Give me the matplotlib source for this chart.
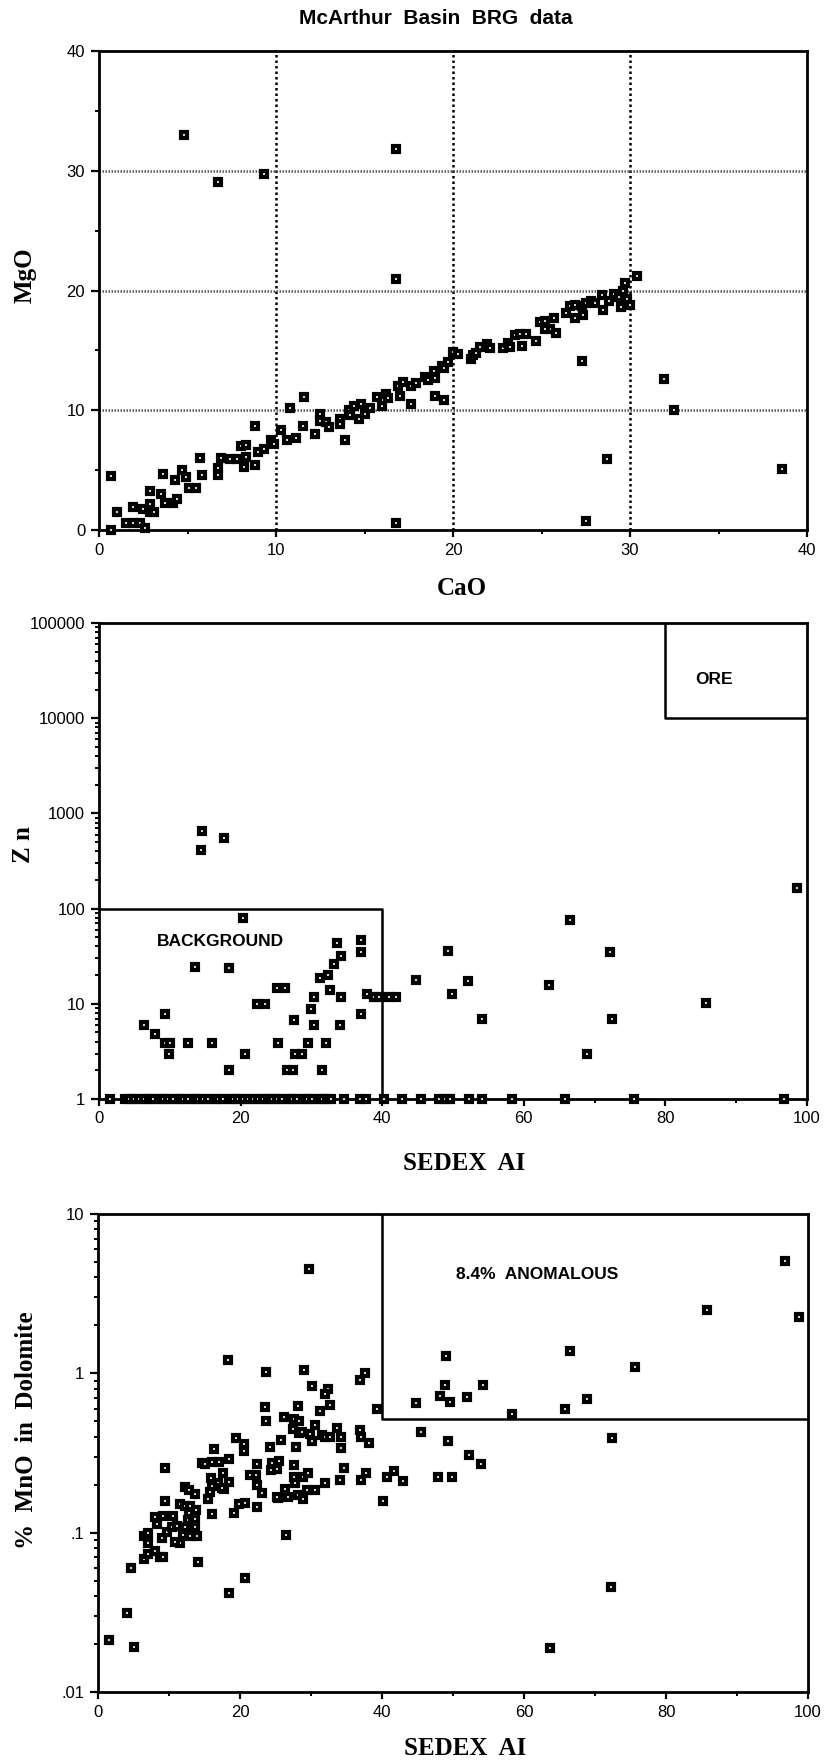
import numpy as np
import matplotlib
matplotlib.use("Agg")
import matplotlib.pyplot as plt
from matplotlib.ticker import FixedLocator, FixedFormatter, LogLocator, NullFormatter

plt.rcParams['font.family'] = ['Liberation Sans', 'DejaVu Sans']

# ---- panel 1 : CaO vs MgO ----
cao = [0.7, 0.7, 1.0, 1.5, 1.9, 2.3, 1.9, 2.5, 2.9, 2.6, 2.9, 2.9, 3.1, 3.6, 3.5,
       3.7, 4.2, 4.4, 4.3, 4.7, 4.9, 5.1, 5.5, 5.7, 5.8, 6.7, 6.7, 6.9, 7.4, 7.8,
       8.0, 8.3, 8.3, 8.2, 8.8, 8.8, 9.0, 9.3, 9.7, 9.9, 10.3, 10.8, 10.6, 11.1, 11.6,
       11.5, 12.2, 12.5, 12.5, 12.8, 13.0, 13.6, 13.6, 13.9, 14.1, 14.2, 14.4, 14.7, 14.8,
       15.0, 15.3, 15.7, 16.0, 16.2, 16.3, 16.9, 17.2, 17.0, 17.6, 17.6, 17.9, 18.4, 18.6,
       18.9, 19.0, 19.0, 19.5, 19.4, 19.5, 19.7, 20.0, 20.3, 21.0, 21.1, 21.3, 21.5, 21.9,
       22.1, 22.8, 23.1, 23.2, 23.5, 23.8, 24.1, 23.9, 24.7, 24.9, 25.2, 25.5, 25.7, 25.8,
       25.2, 26.4, 26.6, 26.9, 26.9, 27.3, 27.35, 27.5, 27.8, 28.0, 28.4, 28.5, 28.8, 29.1,
       29.4, 29.6, 29.7, 29.5, 29.8, 30.0, 30.4, 27.3, 27.5, 28.7, 31.9, 32.5, 38.6, 4.8,
       6.7, 9.3, 16.8, 16.8, 16.8]
mgo = [4.5, 0.0, 1.5, 0.6, 0.6, 0.6, 1.9, 1.8, 1.5, 0.2, 2.2, 3.3, 1.5, 4.7, 3.0,
       2.3, 2.3, 2.6, 4.2, 5.0, 4.4, 3.5, 3.5, 6.0, 4.6, 5.2, 4.6, 6.0, 5.9, 5.9,
       7.0, 7.1, 6.1, 5.3, 5.4, 8.7, 6.5, 6.8, 7.5, 7.2, 8.4, 10.2, 7.5, 7.7, 11.1,
       8.7, 8.0, 9.7, 9.1, 9.0, 8.6, 9.3, 8.9, 7.5, 10.0, 9.6, 10.4, 9.3, 10.5,
       9.7, 10.2, 11.1, 10.4, 11.4, 11.0, 12.0, 12.4, 11.2, 10.5, 12.0, 12.3, 12.8, 12.5,
       13.3, 12.7, 11.2, 10.9, 13.7, 13.5, 14.0, 14.9, 14.7, 14.3, 14.6, 14.8, 15.3, 15.5,
       15.2, 15.2, 15.6, 15.3, 16.3, 16.4, 16.4, 15.4, 15.8, 17.4, 17.5, 16.8, 17.7, 16.5,
       16.8, 18.1, 18.7, 18.8, 17.7, 18.7, 18.0, 19.0, 19.1, 19.0, 19.6, 18.4, 19.1, 19.7,
       19.5, 20.0, 20.6, 18.6, 19.3, 18.8, 21.2, 14.1, 0.8, 5.9, 12.6, 10.0, 5.1, 33.0,
       29.1, 29.7, 31.8, 21.0, 0.6]

# ---- panel 2 : SEDEX AI vs Zn ----
sedex_zn = [20.3, 13.5, 18.3, 33.6, 37.0, 37.0, 34.2, 33.2, 32.4, 31.2, 25.2, 26.2, 22.3,
            23.5, 30.3, 32.6, 34.2, 37.9, 38.9, 39.6, 41.0, 42.0, 30.0, 37.0, 27.6, 30.4,
            34.0, 9.3, 6.4, 7.9, 9.3, 10.0, 12.6, 16.0, 9.9, 20.6, 25.3, 29.5, 32.0, 27.7,
            28.6, 18.3, 26.5, 27.4, 31.5, 44.7, 49.3, 49.8, 52.1, 54.1, 14.6, 14.4, 17.6,
            98.6, 66.5, 72.1, 63.5, 85.7, 72.4, 68.9]
zn = [80, 24.5, 23.5, 43, 47, 35, 32, 26, 20, 18.5, 14.8, 14.8, 10,
      10, 11.7, 14, 11.9, 12.8, 11.9, 11.9, 11.9, 11.9, 8.75, 7.9, 6.8, 6.0,
      6.0, 7.9, 6.0, 4.8, 3.9, 3.9, 3.9, 3.9, 3.0, 3.0, 3.9, 3.9, 3.9, 3.0,
      3.0, 2.0, 2.0, 2.0, 2.0, 17.6, 36, 12.7, 17.4, 6.9, 650, 415, 550,
      164, 75, 35, 15.6, 10.1, 7.0, 3.0]
# samples sitting on Zn = 1 (detection limit)
sedex_zn1 = [1.6, 3.7, 4.3, 5.0, 5.6, 6.3, 7.0, 7.6, 8.4, 9.1, 9.8, 10.5, 11.3, 11.9, 12.6,
             13.4, 14.0, 14.7, 15.4, 16.2, 16.8, 17.5, 18.3, 18.9, 19.6, 20.4, 21.0, 21.8,
             22.4, 23.1, 23.9, 24.5, 25.2, 25.9, 26.7, 27.3, 28.0, 28.8, 29.4, 30.1, 30.9,
             31.5, 32.2, 32.8, 34.6, 36.9, 37.7, 40.3, 42.8, 45.5, 48.0, 48.8, 49.6, 52.2,
             54.1, 58.3, 65.8, 75.6, 96.7]

# ---- panel 3 : SEDEX AI vs % MnO in dolomite ----
sedex_mn = [4.1, 4.6, 1.5, 5.0, 14.1, 18.5, 20.7, 26.5, 9.5,
            6.5, 7.1, 8.0, 8.7, 9.2, 6.5, 7.1, 7.1,
            8.0, 8.3, 9.2, 10.5, 9.0, 9.7, 10.4, 11.1, 11.55, 10.85, 12.2, 12.7, 13.4, 13.7, 13.9, 12.0, 13.0,
            9.5, 11.55, 12.3, 13.0, 13.8, 12.8, 13.6, 12.2, 12.8, 13.7,
            15.5, 16.1, 15.7, 14.6, 16.0, 17.0, 16.3, 17.65, 18.4, 18.5, 17.75, 15.9, 16.1, 16.9, 17.4, 15.0,
            19.5, 20.5, 20.5, 19.9, 20.7, 19.2,
            22.35, 22.35, 23.15, 22.35, 21.4, 22.2, 23.5, 23.6,
            24.2, 24.4, 25.2, 25.5, 24.5, 25.3, 26.3, 26.7, 25.2, 25.7,
            26.2, 27.65, 28.3, 27.4, 28.3, 28.7, 29.9, 30.2, 30.6, 31.5, 32.0, 32.7, 28.1, 31.3, 32.7, 27.9,
            27.65, 27.6, 28.9, 29.6, 27.7, 32.0, 34.1, 34.6, 28.2, 28.8, 29.4, 30.6,
            33.6, 34.2, 34.2, 36.9, 37.0, 38.2, 37.0, 37.8, 40.7, 41.7, 42.9,
            40.2, 39.25, 45.5, 47.9, 49.8, 49.3, 52.3, 44.8, 54.0,
            29.7, 18.3, 23.6, 29.0, 30.2, 32.4, 32.0, 36.9, 37.6,
            49.0, 48.8, 48.1, 49.6, 51.9, 54.2, 58.3, 65.7, 66.5, 68.9, 75.6, 85.8, 96.8, 98.7,
            72.4, 72.2, 63.6]
mno = [0.0315, 0.060, 0.0212, 0.0193, 0.065, 0.0417, 0.0518, 0.097, 0.254,
       0.068, 0.074, 0.077, 0.070, 0.0706, 0.095, 0.099, 0.086,
       0.125, 0.114, 0.128, 0.128, 0.093, 0.101, 0.109, 0.110, 0.0865, 0.087, 0.108, 0.12, 0.123, 0.109, 0.095, 0.097, 0.095,
       0.158, 0.151, 0.147, 0.146, 0.138, 0.132, 0.121, 0.193, 0.185, 0.174,
       0.162, 0.131, 0.179, 0.273, 0.276, 0.276, 0.333, 0.238, 0.207, 0.289, 0.187, 0.219, 0.196, 0.206, 0.191, 0.27,
       0.391, 0.359, 0.327, 0.151, 0.154, 0.133,
       0.268, 0.199, 0.178, 0.144, 0.231, 0.231, 0.612, 0.50,
       0.347, 0.247, 0.25, 0.28, 0.275, 0.166, 0.189, 0.168, 0.168, 0.382,
       0.53, 0.52, 0.50, 0.446, 0.42, 0.43, 0.415, 0.376, 0.472, 0.41, 0.40, 0.40, 0.624, 0.583, 0.632, 0.344,
       0.266, 0.225, 0.225, 0.236, 0.204, 0.206, 0.214, 0.253, 0.173, 0.162, 0.185, 0.185,
       0.452, 0.40, 0.338, 0.44, 0.40, 0.364, 0.214, 0.238, 0.225, 0.244, 0.211,
       0.158, 0.597, 0.426, 0.225, 0.225, 0.374, 0.307, 0.655, 0.269,
       4.49, 1.21, 1.02, 1.05, 0.83, 0.80, 0.74, 0.905, 1.0,
       1.29, 0.84, 0.725, 0.66, 0.71, 0.84, 0.555, 0.595, 1.39, 0.69, 1.09, 2.49, 5.07, 2.27,
       0.393, 0.0454, 0.019]

mk = dict(marker='s', ms=5, mfc='white', mec='black', mew=3.0, ls='none')
label_font = dict(family=['Liberation Serif', 'DejaVu Serif'], fontweight='bold', fontsize=18)


def style_axes(ax):
    for s in ax.spines.values():
        s.set_linewidth(2.0)
    ax.tick_params(which='major', direction='out', length=5, width=1.6, labelsize=12, pad=4)
    ax.tick_params(which='minor', direction='out', length=3, width=1.4)
    ax.tick_params(axis='y', which='major', length=6)


fig = plt.figure(figsize=(8.28, 17.64), dpi=100)
fig.text(0.5266, 0.9895, "McArthur  Basin  BRG  data", ha='center', va='center',
         fontsize=15, fontweight='bold')

# panel 1
ax1 = fig.add_axes([0.1196, 0.6995, 0.8551, 0.2715])
for v in [10, 20, 30]:
    ax1.axvline(v, color='black', lw=1.8, ls=(0, (1, 1.2)), zorder=1)
    ax1.axhline(v, color='#555555', lw=1.8, ls=(0, (0.6, 0.6)), zorder=1)
ax1.plot(cao, mgo, clip_on=False, zorder=3, **mk)
ax1.set_xlim(0, 40)
ax1.set_ylim(0, 40)
ax1.set_xticks([0, 10, 20, 30, 40])
ax1.set_yticks([0, 10, 20, 30, 40])
ax1.set_xticks([5, 15, 25, 35], minor=True)
ax1.set_yticks([5, 15, 25, 35], minor=True)
style_axes(ax1)
ax1.set_xlabel("CaO", **label_font)
ax1.set_ylabel("MgO", **label_font)
ax1.xaxis.set_label_coords(0.513, -0.121)
ax1.yaxis.set_label_coords(-0.1045, 0.532)
ax1.xaxis.label.set_va('center')
ax1.yaxis.label.set_va('center')

# panel 2
ax2 = fig.add_axes([0.1196, 0.3770, 0.8551, 0.2698])
ax2.set_yscale('log')
ax2.plot([0, 40, 40], [100, 100, 1], color='black', lw=1.8, zorder=2)
ax2.plot([80, 80, 100], [100000, 10000, 10000], color='black', lw=1.8, zorder=2)
ax2.plot(sedex_zn, zn, clip_on=False, zorder=3, **mk)
ax2.plot(sedex_zn1, [1] * len(sedex_zn1), clip_on=False, zorder=3, **mk)
ax2.set_xlim(0, 100)
ax2.set_ylim(1, 100000)
ax2.set_xticks([0, 20, 40, 60, 80, 100])
ax2.set_xticks([10, 30, 50, 70, 90], minor=True)
ax2.yaxis.set_major_locator(FixedLocator([1, 10, 100, 1000, 10000, 100000]))
ax2.yaxis.set_major_formatter(FixedFormatter(["1", "10", "100", "1000", "10000", "100000"]))
ax2.yaxis.set_minor_locator(LogLocator(base=10, subs=np.arange(2, 10), numticks=20))
ax2.yaxis.set_minor_formatter(NullFormatter())
style_axes(ax2)
ax2.text(8.2, 44.6, "BACKGROUND", fontsize=12.5, fontweight='bold', va='center', ha='left')
ax2.text(84.2, 25700, "ORE", fontsize=12.5, fontweight='bold', va='center', ha='left')
ax2.set_xlabel("SEDEX  AI", **label_font)
ax2.set_ylabel("Z n", **label_font)
ax2.xaxis.set_label_coords(0.515, -0.135)
ax2.yaxis.set_label_coords(-0.106, 0.534)
ax2.xaxis.label.set_va('center')
ax2.yaxis.label.set_va('center')

# panel 3
ax3 = fig.add_axes([0.1184, 0.0408, 0.8575, 0.2710])
ax3.set_yscale('log')
ax3.plot([40, 40, 100], [10, 0.52, 0.52], color='black', lw=1.8, zorder=2)
ax3.plot(sedex_mn, mno, clip_on=False, zorder=3, **mk)
ax3.set_xlim(0, 100)
ax3.set_ylim(0.01, 10)
ax3.set_xticks([0, 20, 40, 60, 80, 100])
ax3.set_xticks([10, 30, 50, 70, 90], minor=True)
ax3.yaxis.set_major_locator(FixedLocator([0.01, 0.1, 1, 10]))
ax3.yaxis.set_major_formatter(FixedFormatter([".01", ".1", "1", "10"]))
ax3.yaxis.set_minor_locator(LogLocator(base=10, subs=np.arange(2, 10), numticks=20))
ax3.yaxis.set_minor_formatter(NullFormatter())
style_axes(ax3)
ax3.text(50.4, 4.2, "8.4%  ANOMALOUS", fontsize=12.5, fontweight='bold', va='center', ha='left')
ax3.set_xlabel("SEDEX  AI", **label_font)
ax3.set_ylabel("%  MnO  in  Dolomite", **label_font)
ax3.xaxis.set_label_coords(0.517, -0.118)
ax3.yaxis.set_label_coords(-0.101, 0.548)
ax3.xaxis.label.set_va('center')
ax3.yaxis.label.set_va('center')

fig.savefig("out.png", dpi=100)
